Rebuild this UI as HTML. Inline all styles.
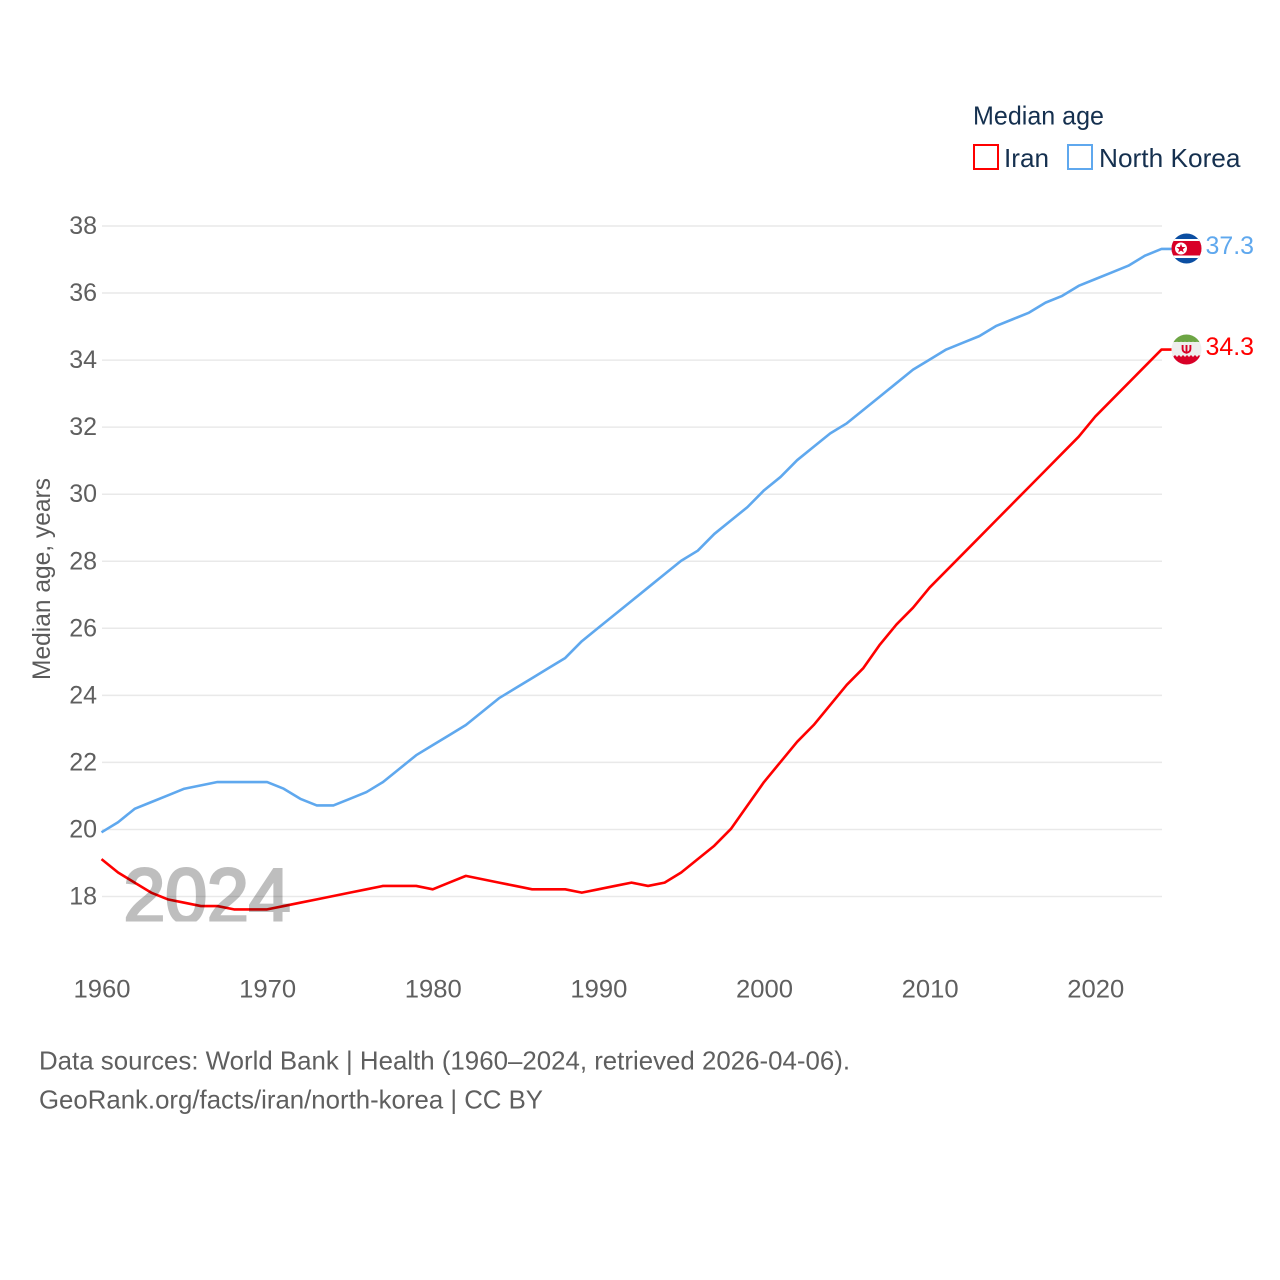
<!DOCTYPE html>
<html lang="en">
<head>
<meta charset="utf-8">
<title>Median age: Iran and North Korea</title>
<style>
html,body{margin:0;padding:0;background:#fff;}
svg{display:block;font-family:"Liberation Sans",sans-serif;}
</style>
</head>
<body>
<svg id="chart" xmlns="http://www.w3.org/2000/svg" width="1280" height="1280" viewBox="0 0 1280 1280">
  <defs>
    <clipPath id="year-clip"><rect x="100" y="850" width="220" height="71.5"/></clipPath>
    <clipPath id="kp-clip"><circle cx="1186.5" cy="248.5" r="15"/></clipPath>
    <clipPath id="ir-clip"><circle cx="1186.5" cy="349.5" r="15"/></clipPath>
  </defs>
  <rect width="1280" height="1280" fill="#fff"/>
  <g id="grid"></g>
  <g id="yticks"></g>
  <g id="xticks"></g>
  <text transform="translate(50,579) rotate(-90)" text-anchor="middle" font-size="25" fill="#5b5b5b" textLength="202" lengthAdjust="spacingAndGlyphs">Median age, years</text>
  <g id="series" transform="translate(-0.5,-0.5)"></g>
  <g clip-path="url(#year-clip)">
    <text x="123.5" y="922.5" font-size="77" fill="#000" stroke="#000" stroke-width="3" opacity="0.25" textLength="167" lengthAdjust="spacingAndGlyphs">2024</text>
  </g>

  <g clip-path="url(#kp-clip)">
    <rect x="1171" y="233" width="31" height="31" fill="#0b4ea2"/>
    <rect x="1171" y="239" width="31" height="19" fill="#fff"/>
    <rect x="1171" y="241" width="31" height="14.5" fill="#d80027"/>
    <circle cx="1181" cy="248.5" r="6" fill="#fff"/>
    <polygon points="1181,243.8 1182.2,247 1185.6,247 1182.9,249.2 1183.8,252.5 1181,250.6 1178.2,252.5 1179.1,249.2 1176.4,247 1179.8,247" fill="#d80027"/>
  </g>
  <g clip-path="url(#ir-clip)">
    <rect x="1171" y="334" width="31" height="9" fill="#6da544"/>
    <rect x="1171" y="342" width="31" height="14" fill="#eeeeee"/>
    <rect x="1171" y="355" width="31" height="11" fill="#d80027"/>
    <path d="M1171 343.5 l2 -2 2 2 2 -2 2 2 2 -2 2 2 2 -2 2 2 2 -2 2 2 2 -2 2 2 2 -2 2 2 2 -2 v2 h-32z" fill="#eeeeee"/>
    <path d="M1171 355 l2 2 2 -2 2 2 2 -2 2 2 2 -2 2 2 2 -2 2 2 2 -2 2 2 2 -2 2 2 2 -2 2 2 v-2 h-32z" fill="#eeeeee"/>
    <path d="M1182.6 345 v4 q0 3 3.9 3.8 q3.9 -.8 3.9 -3.8 v-4 M1186.5 345 v8.5" fill="none" stroke="#d80027" stroke-width="1.9"/>
  </g>

  <text x="1205.5" y="254" font-size="25" fill="#5fa8ee" textLength="48.5" lengthAdjust="spacingAndGlyphs">37.3</text>
  <text x="1205.5" y="355" font-size="25" fill="#ff0000" textLength="48.5" lengthAdjust="spacingAndGlyphs">34.3</text>

  <g>
    <text x="973" y="124.5" font-size="26" fill="#15304f" textLength="131" lengthAdjust="spacingAndGlyphs">Median age</text>
    <rect x="974" y="145" width="24" height="24" fill="#fff" stroke="#ff0000" stroke-width="2"/>
    <text x="1004" y="167" font-size="26" fill="#15304f" textLength="45" lengthAdjust="spacingAndGlyphs">Iran</text>
    <rect x="1068" y="145" width="24" height="24" fill="#fff" stroke="#5fa8ee" stroke-width="2"/>
    <text x="1099" y="167" font-size="26" fill="#15304f" textLength="141.5" lengthAdjust="spacingAndGlyphs">North Korea</text>
  </g>

  <text x="39" y="1069.5" font-size="26" fill="#5f5f5f" textLength="811" lengthAdjust="spacingAndGlyphs">Data sources: World Bank | Health (1960–2024, retrieved 2026-04-06).</text>
  <text x="39" y="1108.5" font-size="26" fill="#5f5f5f" textLength="504" lengthAdjust="spacingAndGlyphs">GeoRank.org/facts/iran/north-korea | CC BY</text>
</svg>
<script>
const years = [1960,1961,1962,1963,1964,1965,1966,1967,1968,1969,1970,1971,1972,1973,1974,1975,1976,1977,1978,1979,1980,1981,1982,1983,1984,1985,1986,1987,1988,1989,1990,1991,1992,1993,1994,1995,1996,1997,1998,1999,2000,2001,2002,2003,2004,2005,2006,2007,2008,2009,2010,2011,2012,2013,2014,2015,2016,2017,2018,2019,2020,2021,2022,2023,2024];
const iranValues = [19.1,18.7,18.4,18.1,17.9,17.8,17.7,17.7,17.6,17.6,17.6,17.7,17.8,17.9,18.0,18.1,18.2,18.3,18.3,18.3,18.2,18.4,18.6,18.5,18.4,18.3,18.2,18.2,18.2,18.1,18.2,18.3,18.4,18.3,18.4,18.7,19.1,19.5,20.0,20.7,21.4,22.0,22.6,23.1,23.7,24.3,24.8,25.5,26.1,26.6,27.2,27.7,28.2,28.7,29.2,29.7,30.2,30.7,31.2,31.7,32.3,32.8,33.3,33.8,34.3];
const northKoreaValues = [19.9,20.2,20.6,20.8,21.0,21.2,21.3,21.4,21.4,21.4,21.4,21.2,20.9,20.7,20.7,20.9,21.1,21.4,21.8,22.2,22.5,22.8,23.1,23.5,23.9,24.2,24.5,24.8,25.1,25.6,26.0,26.4,26.8,27.2,27.6,28.0,28.3,28.8,29.2,29.6,30.1,30.5,31.0,31.4,31.8,32.1,32.5,32.9,33.3,33.7,34.0,34.3,34.5,34.7,35.0,35.2,35.4,35.7,35.9,36.2,36.4,36.6,36.8,37.1,37.3];
const yTickValues = [18,20,22,24,26,28,30,32,34,36,38];
const xTickValues = [1960,1970,1980,1990,2000,2010,2020];

const NS = 'http://www.w3.org/2000/svg';
function xScale(year) { return 102 + (year - 1960) * (1162 - 102) / 64; }
function yScale(value) { return 896.5 - (value - 18) * (896.5 - 226) / 20; }

const grid = document.getElementById('grid');
const yticks = document.getElementById('yticks');
const xticks = document.getElementById('xticks');
const series = document.getElementById('series');

yTickValues.forEach(function (v) {
  const line = document.createElementNS(NS, 'line');
  
  
  line.setAttribute('x1', 102);
  line.setAttribute('x2', 1162);
  line.setAttribute('y1', yScale(v));
  line.setAttribute('y2', yScale(v));
  line.setAttribute('stroke', '#e9e9e9');
  line.setAttribute('stroke-width', 1.5);
  grid.appendChild(line);

  const label = document.createElementNS(NS, 'text');
  
  
  label.setAttribute('x', 97);
  label.setAttribute('y', yScale(v) + 8);
  label.setAttribute('text-anchor', 'end');
  label.setAttribute('font-size', 25);
  label.setAttribute('fill', '#5f5f5f');
  label.textContent = String(v);
  yticks.appendChild(label);
});

xTickValues.forEach(function (y) {
  const label = document.createElementNS(NS, 'text');
  
  
  label.setAttribute('x', xScale(y));
  label.setAttribute('y', 997.5);
  label.setAttribute('text-anchor', 'middle');
  label.setAttribute('font-size', 25);
  label.setAttribute('fill', '#5f5f5f');
  label.setAttribute('textLength', 57);
  label.setAttribute('lengthAdjust', 'spacingAndGlyphs');
  label.textContent = String(y);
  xticks.appendChild(label);
});

function drawSeries(values, color, flagEdge) {
  const pts = values.map(function (v, i) { return xScale(years[i]).toFixed(2) + ',' + yScale(v).toFixed(2); });
  const last = values[values.length - 1];
  pts.push(flagEdge + ',' + yScale(last).toFixed(2));
  const line = document.createElementNS(NS, 'polyline');
  
  
  line.setAttribute('points', pts.join(' '));
  line.setAttribute('fill', 'none');
  line.setAttribute('stroke', color);
  line.setAttribute('stroke-width', 2.6);
  line.setAttribute('stroke-linejoin', 'round');
  series.appendChild(line);
}
drawSeries(northKoreaValues, '#5fa8ee', 1172);
drawSeries(iranValues, '#ff0000', 1172);
</script>
</body>
</html>
